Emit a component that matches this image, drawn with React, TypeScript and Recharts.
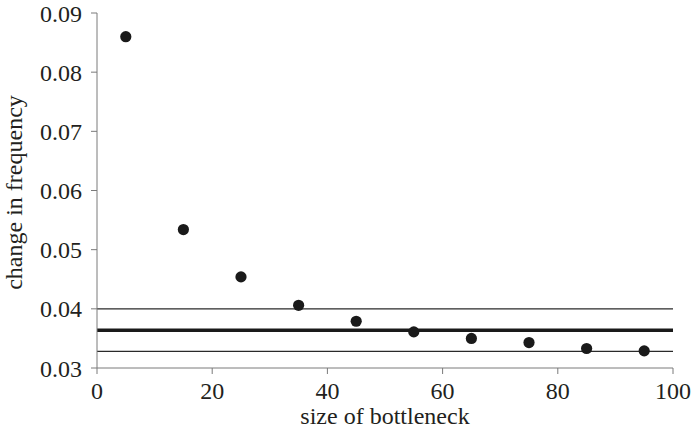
import { ScatterChart, Scatter, XAxis, YAxis, ReferenceLine, Label } from 'recharts';

// bottleneck size (x) vs mean change in frequency (y)
const bottleneckSizes = [5, 15, 25, 35, 45, 55, 65, 75, 85, 95];
const freqChanges = [0.086, 0.0534, 0.0454, 0.0406, 0.0379, 0.0361, 0.035, 0.0343, 0.0333, 0.0329];

// horizontal reference levels: mean and the band around it
const meanLevel = 0.0364;
const bandLevels = [0.04, 0.0328];

const xTicks = [0, 20, 40, 60, 80, 100];
const yTicks = [0.03, 0.04, 0.05, 0.06, 0.07, 0.08, 0.09];

const points = bottleneckSizes.map((x, i) => ({ x, y: freqChanges[i] }));

const FONT = 'Liberation Serif';
const TEXT = '#231f20';
const AXIS = '#7a7a7a';
const FS = 24;
const tickStyle = { fontSize: FS, fill: TEXT, style: { fontFamily: FONT } };

export default function App() {
  return (
    <div style={{ position: 'absolute', left: 0, top: 0, width: 692, height: 434, background: '#fff', fontFamily: FONT }}>
      <ScatterChart width={692} height={434} margin={{ top: 13, right: 19, left: 0, bottom: 0 }}>
        <XAxis
          type="number"
          dataKey="x"
          domain={[0, 100]}
          ticks={xTicks}
          height={66}
          stroke={AXIS}
          tickSize={6}
          tickMargin={8}
          tick={tickStyle}
        >
          <Label
            content={({ viewBox }: any) => (
              <text
                x={viewBox.x + viewBox.width / 2}
                y={viewBox.y + 56}
                textAnchor="middle"
                fontSize={FS}
                fill={TEXT}
                style={{ fontFamily: FONT }}
              >
                size of bottleneck
              </text>
            )}
          />
        </XAxis>
        <YAxis
          type="number"
          dataKey="y"
          domain={[0.03, 0.09]}
          ticks={yTicks}
          width={97}
          stroke={AXIS}
          tickSize={6}
          tickMargin={9}
          tickFormatter={(v: number) => v.toFixed(2)}
          tick={tickStyle}
        >
          <Label
            content={({ viewBox }: any) => {
              const cx = viewBox.x + 22;
              const cy = viewBox.y + viewBox.height / 2 + 2;
              return (
                <text
                  x={cx}
                  y={cy}
                  transform={`rotate(-90, ${cx}, ${cy})`}
                  textAnchor="middle"
                  fontSize={FS}
                  fill={TEXT}
                  style={{ fontFamily: FONT }}
                >
                  change in frequency
                </text>
              );
            }}
          />
        </YAxis>
        {bandLevels.map((lvl) => (
          <ReferenceLine key={lvl} y={lvl} stroke="#2a2a2a" strokeWidth={1.2} />
        ))}
        <ReferenceLine y={meanLevel} stroke="#1a1a1a" strokeWidth={3.5} />
        <Scatter
          data={points}
          fill="#1a1a1a"
          isAnimationActive={false}
          shape={(p: any) => <circle cx={p.cx} cy={p.cy} r={5.6} fill="#1a1a1a" />}
        />
      </ScatterChart>
    </div>
  );
}
